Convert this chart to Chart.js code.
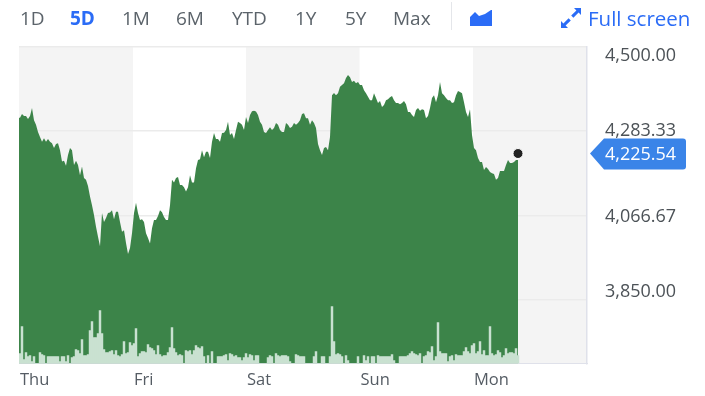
<!DOCTYPE html>
<html>
<head>
<meta charset="utf-8">
<script src="https://cdn.jsdelivr.net/npm/chart.js@4/dist/chart.umd.min.js"></script>
<style>
  html, body { margin: 0; background: #fff; }
  #wrap { position: relative; width: 705px; height: 396px; overflow: hidden; font-family: "Open Sans", sans-serif; }
  canvas { position: absolute; left: 0; top: 0; }
  .btn { position: absolute; top: 6px; font-size: 19px; font-weight: 500; line-height: 24px; color: #5b636a; white-space: nowrap; }
  .on { color: #2b6cf6; font-weight: 700; }
  .full { color: #2b6cf6; font-size: 20.5px; }
  .sep { position: absolute; left: 451px; top: 2px; width: 1px; height: 28px; background: #e4e6ea; }
  svg { position: absolute; }
</style>
</head>
<body>
<div id="wrap">
  <canvas id="chart" width="705" height="396"></canvas>
  <div id="buttons"></div>
  <div class="sep"></div>
  <svg style="left:470px;top:9px" width="23" height="18" viewBox="0 0 23 18"><path d="M0 8 L5 3 L9 7 L15 5 L21 1 L22 1 V17 H0 Z" fill="#2b6cf6"/></svg>
  <svg style="left:560px;top:7px" width="22" height="22" viewBox="0 0 22 22" fill="#2b6cf6"><path d="M14 1 H21 V8 L18.6 5.6 L13.4 10.8 L11.2 8.6 L16.4 3.4 Z M8 21 H1 V14 L3.4 16.4 L8.6 11.2 L10.8 13.4 L5.6 18.6 Z"/></svg>
</div>
<script>
const dayLabels = ['Thu', 'Fri', 'Sat', 'Sun', 'Mon'];
const dayStarts = [0, 57, 113.5, 170.25, 227];
const sampleCount = 284;
const priceTicks = [3850, 4066.67, 4283.33, 4500];
const priceMin = 3687;
const priceMax = 4500;
const lastPrice = 4225.54;
const volumeMax = 3175;

const prices = [
  4317, 4327, 4322, 4322, 4314, 4322, 4342, 4311, 4299, 4281,
  4268, 4256, 4265, 4256, 4263, 4256, 4252, 4240, 4250, 4252,
  4234, 4205, 4207, 4194, 4222, 4240, 4234, 4196, 4207, 4196,
  4170, 4192, 4163, 4158, 4142, 4115, 4093, 4068, 4038, 4012,
  3988, 4073, 4050, 4060, 4073, 4074, 4080, 4057, 4076, 4076,
  4050, 4025, 4029, 3996, 3968, 3983, 4021, 4073, 4099, 4073,
  4055, 4057, 4050, 4021, 4009, 3995, 4034, 4055, 4055, 4065,
  4080, 4075, 4063, 4055, 4055, 4093, 4158, 4151, 4163, 4165,
  4145, 4145, 4139, 4128, 4139, 4170, 4151, 4151, 4188, 4209,
  4211, 4234, 4216, 4230, 4230, 4214, 4256, 4278, 4263, 4263,
  4256, 4278, 4279, 4286, 4307, 4273, 4278, 4263, 4286, 4307,
  4304, 4299, 4286, 4319, 4304, 4324, 4334, 4335, 4333, 4324,
  4307, 4299, 4281, 4278, 4286, 4293, 4286, 4291, 4304, 4299,
  4286, 4281, 4281, 4304, 4299, 4291, 4294, 4304, 4299, 4304,
  4311, 4327, 4329, 4316, 4316, 4299, 4311, 4304, 4291, 4250,
  4234, 4222, 4240, 4242, 4234, 4268, 4375, 4381, 4375, 4380,
  4397, 4401, 4406, 4419, 4427, 4421, 4409, 4412, 4406, 4409,
  4401, 4401, 4388, 4380, 4371, 4362, 4362, 4380, 4368, 4355,
  4360, 4345, 4350, 4362, 4365, 4370, 4373, 4362, 4355, 4355,
  4352, 4355, 4360, 4352, 4332, 4332, 4324, 4319, 4337, 4342,
  4335, 4339, 4337, 4316, 4322, 4342, 4368, 4375, 4357, 4375,
  4409, 4380, 4375, 4368, 4362, 4362, 4355, 4357, 4375, 4386,
  4383, 4380, 4357, 4332, 4319, 4339, 4273, 4240, 4234, 4214,
  4204, 4204, 4183, 4191, 4186, 4178, 4175, 4173, 4158, 4163,
  4181, 4181, 4181, 4196, 4209, 4201, 4201, 4204, 4209, 4209
];

const volumes = [
  100, 370, 40, 110, 70, 80, 20, 70, 0, 0,
  110, 90, 80, 0, 70, 70, 70, 70, 70, 70,
  20, 70, 70, 20, 80, 0, 60, 70, 140, 130,
  100, 240, 80, 80, 90, 330, 420, 260, 260, 300,
  530, 300, 140, 110, 110, 120, 130, 90, 130, 80,
  70, 90, 220, 100, 110, 210, 180, 200, 350, 70,
  100, 120, 120, 110, 190, 160, 150, 130, 90, 180,
  90, 70, 80, 80, 110, 160, 360, 150, 110, 80,
  90, 80, 0, 130, 120, 130, 90, 130, 180, 160,
  150, 170, 70, 0, 80, 0, 120, 0, 0, 70,
  70, 70, 80, 90, 30, 100, 90, 70, 80, 60,
  60, 30, 60, 100, 60, 90, 80, 30, 80, 80,
  0, 0, 0, 0, 60, 80, 70, 0, 100, 80,
  70, 80, 80, 80, 70, 20, 0, 0, 90, 80,
  70, 70, 70, 0, 0, 0, 0, 70, 120, 0,
  0, 70, 70, 0, 0, 70, 570, 220, 90, 100,
  90, 70, 0, 80, 30, 0, 0, 0, 0, 70,
  0, 0, 80, 30, 70, 0, 70, 70, 0, 80,
  70, 70, 70, 70, 70, 70, 90, 30, 0, 0,
  70, 70, 70, 70, 80, 100, 120, 100, 90, 80,
  100, 0, 70, 80, 120, 110, 170, 30, 70, 410,
  120, 100, 100, 100, 20, 70, 80, 30, 90, 80,
  80, 80, 120, 160, 120, 100, 180, 200, 100, 120,
  220, 90, 130, 80, 80, 370, 100, 80, 90, 130,
  110, 60, 80, 150, 100, 110, 110, 100, 150, 80
];

const buttonLabels = ['1D', '5D', '1M', '6M', 'YTD', '1Y', '5Y', 'Max', 'Full screen'];
const buttonLefts = [20, 70, 122, 176, 232, 295, 345, 393, 588];
buttonLabels.forEach((t, i) => {
  const el = document.createElement('div');
  el.className = 'btn' + (t === '5D' ? ' on' : '') + (t === 'Full screen' ? ' full' : '');
  el.style.left = buttonLefts[i] + 'px';
  el.textContent = t;
  document.getElementById('buttons').appendChild(el);
});

const fmt = v => v.toLocaleString('en-US', { minimumFractionDigits: 2, maximumFractionDigits: 2 });

// alternating day bands sit behind the grid
const dayBands = {
  id: 'dayBands',
  beforeDraw: chart => {
    const { ctx, chartArea, scales } = chart;
    ctx.save();
    ctx.fillStyle = '#f4f4f4';
    dayStarts.forEach((d, i) => {
      if (i % 2) return;
      const from = scales.x.getPixelForValue(d);
      const to = scales.x.getPixelForValue(i + 1 < dayStarts.length ? dayStarts[i + 1] : sampleCount);
      ctx.fillRect(from, chartArea.top, to - from, chartArea.height);
    });
    ctx.restore();
  }
};

// price labels on the right, first and last pulled inside the plot, plus the last price tag
const priceLabels = {
  id: 'priceLabels',
  afterDraw: chart => {
    const { ctx, scales } = chart;
    ctx.save();
    ctx.font = '500 18px "Open Sans", sans-serif';
    ctx.textAlign = 'left';
    ctx.textBaseline = 'middle';
    ctx.fillStyle = '#4c5257';
    priceTicks.forEach(v => {
      let y = scales.y.getPixelForValue(v) + 1;
      if (v === 4500) y += 8;
      else if (v === 3850) y -= 9;
      else if (v === 4283.33) y -= 1;
      ctx.fillText(fmt(v), 605, y);
    });

    const ty = scales.y.getPixelForValue(lastPrice);
    ctx.fillStyle = '#3a84e8';
    ctx.beginPath();
    ctx.moveTo(590, ty);
    ctx.lineTo(604, ty - 15);
    ctx.lineTo(683, ty - 15);
    ctx.quadraticCurveTo(686, ty - 15, 686, ty - 12);
    ctx.lineTo(686, ty + 13);
    ctx.quadraticCurveTo(686, ty + 16, 683, ty + 16);
    ctx.lineTo(604, ty + 16);
    ctx.closePath();
    ctx.fill();
    ctx.fillStyle = '#fff';
    ctx.fillText(fmt(lastPrice), 605, ty + 1);
    ctx.restore();
  }
};

new Chart(document.getElementById('chart'), {
  data: {
    datasets: [
      {
        type: 'line',
        order: 1,
        yAxisID: 'y',
        data: [{ x: 0, y: prices[0] }].concat(prices.map((y, i) => ({ x: i + 0.5, y }))),
        borderWidth: 0,
        pointRadius: 0,
        tension: 0,
        fill: 'start',
        backgroundColor: '#3c8449'
      },
      {
        type: 'bar',
        order: 0,
        yAxisID: 'vol',
        data: volumes.map((y, i) => ({ x: i + 0.5, y })),
        backgroundColor: '#c9e1d1',
        barThickness: 1.8
      },
      {
        type: 'line',
        order: -1,
        yAxisID: 'y',
        data: [{ x: prices.length - 0.5, y: lastPrice }],
        showLine: false,
        pointRadius: 5,
        pointBackgroundColor: '#222',
        pointBorderColor: '#fff',
        pointBorderWidth: 1,
        clip: false
      }
    ]
  },
  options: {
    responsive: false,
    animation: false,
    layout: { padding: { left: 19, top: 46.5, right: 0, bottom: 0 } },
    plugins: { legend: { display: false }, tooltip: { enabled: false } },
    scales: {
      x: {
        type: 'linear',
        offset: false,
        min: 0,
        max: sampleCount,
        afterBuildTicks: axis => { axis.ticks = dayStarts.map(value => ({ value })); },
        afterFit: axis => { axis.height = 32.5; },
        grid: { display: false },
        border: { display: true, color: '#dfe1ea', width: 1 },
        ticks: {
          autoSkip: false,
          maxRotation: 0,
          align: 'start',
          padding: -1,
          labelOffset: 1,
          color: '#555c64',
          font: { family: '"Open Sans", sans-serif', size: 16.5, weight: 500 },
          callback: value => dayLabels[dayStarts.indexOf(value)]
        }
      },
      y: {
        position: 'right',
        min: priceMin,
        max: priceMax,
        afterBuildTicks: axis => { axis.ticks = priceTicks.map(value => ({ value })); },
        afterFit: axis => { axis.width = 118; },
        grid: { color: '#ebebeb', lineWidth: 1.5, drawTicks: false },
        border: { display: true, color: '#dfe1ea', width: 1.5 },
        ticks: { display: false }
      },
      vol: {
        display: false,
        min: 0,
        max: volumeMax
      }
    }
  },
  plugins: [dayBands, priceLabels]
});
</script>
</body>
</html>
